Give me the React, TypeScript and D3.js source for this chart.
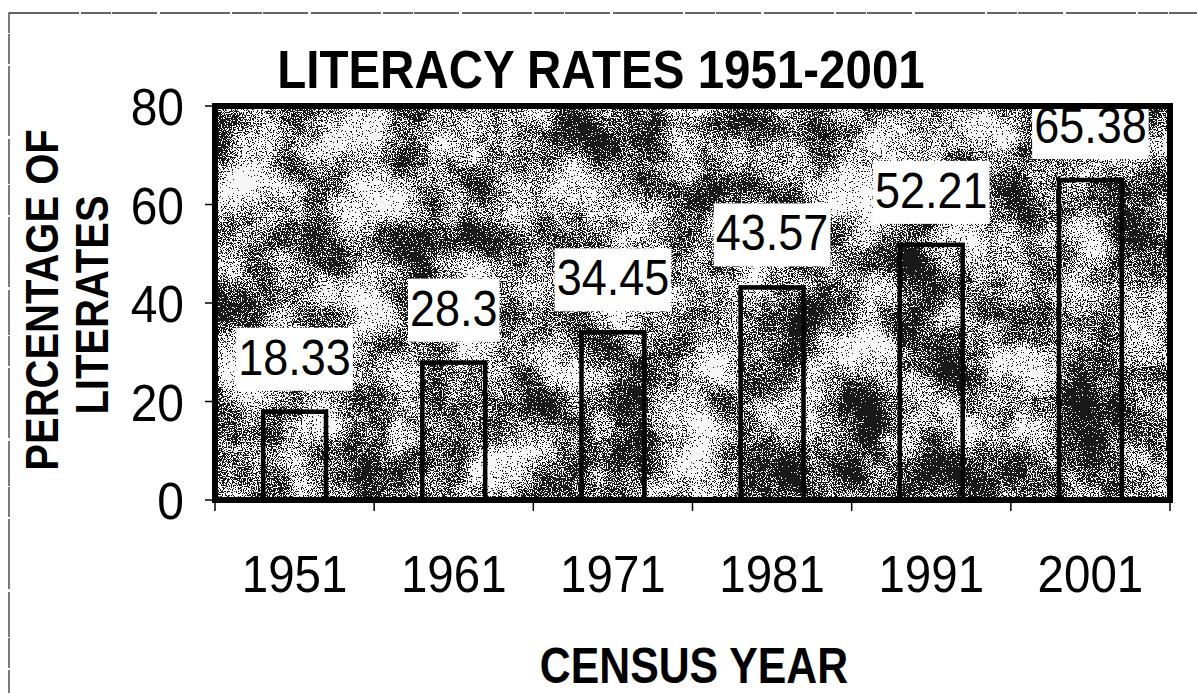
import React from 'react';
import * as d3 from 'd3';

// census years and literacy %
const years = ['1951', '1961', '1971', '1981', '1991', '2001'];
const literacy = [18.33, 28.3, 34.45, 43.57, 52.21, 65.38];
const yTicks = [0, 20, 40, 60, 80];

const W = 1197;
const H = 693;
const plot = { left: 215, right: 1170, top: 106, bottom: 500 };
const FONT = '"Liberation Sans", Arial, sans-serif';

let ctx: CanvasRenderingContext2D | null = null;
function measure(txt: string, size: number) {
  if (!ctx) ctx = document.createElement('canvas').getContext('2d');
  if (!ctx) return txt.length * size * 0.55;
  ctx.font = `${size}px ${FONT}`;
  return ctx.measureText(txt).width;
}

// speckled scan-like texture
function Granite({ id, bias }: { id: string; bias: number }) {
  return (
    <filter id={id} x="0" y="0" width="1" height="1" colorInterpolationFilters="sRGB">
      <feTurbulence type="fractalNoise" baseFrequency="0.018" numOctaves={4} seed={3} result="low" />
      <feTurbulence type="fractalNoise" baseFrequency="0.8" numOctaves={2} seed={8} result="high" />
      <feColorMatrix in="low" type="matrix" values="1 0 0 0 0  1 0 0 0 0  1 0 0 0 0  0 0 0 0 1" result="lowG" />
      <feColorMatrix in="high" type="matrix" values="1 0 0 0 0  1 0 0 0 0  1 0 0 0 0  0 0 0 0 1" result="highG" />
      <feComposite in="lowG" in2="highG" operator="arithmetic" k1="0" k2="1.25" k3="1.9" k4={bias} result="mix" />
      <feComponentTransfer in="mix">
        <feFuncR type="discrete" tableValues="0.1 0.97" />
        <feFuncG type="discrete" tableValues="0.1 0.97" />
        <feFuncB type="discrete" tableValues="0.1 0.97" />
        <feFuncA type="linear" slope="0" intercept="1" />
      </feComponentTransfer>
    </filter>
  );
}

export default function App() {
  const x = d3.scaleBand().domain(years).range([plot.left, plot.right])
    .paddingInner(0.58).paddingOuter(0.29);
  const xEdge = d3.scaleBand().domain(years).range([plot.left, plot.right]);
  const y = d3.scaleLinear().domain([0, 80]).range([plot.bottom, plot.top]);

  const labelSize = 45;

  return (
    <svg width={W} height={H} style={{ position: 'absolute', left: 0, top: 0, background: '#fff' }}
      fontFamily={FONT}>
      <defs>
        <Granite id="granite" bias={-1.05} />
        <Granite id="graniteDark" bias={-1.16} />
      </defs>

      {/* scanned page border */}
      <rect x={9} y={13} width={1300} height={800} fill="none" stroke="#333" strokeWidth={1.3}
        strokeDasharray="70 2 30 1 45 3" />

      {/* title */}
      <text transform="translate(601,88) scale(1,1.12)" textAnchor="middle" fontSize={47.5}
        fontWeight="bold">LITERACY RATES 1951-2001</text>

      {/* plot area background */}
      <rect x={plot.left} y={plot.top} width={plot.right - plot.left} height={plot.bottom - plot.top}
        fill="#888" filter="url(#granite)" />

      {/* bars */}
      {literacy.map((v, i) => (
        <g key={years[i]}>
          <rect x={x(years[i])!} y={y(v)} width={x.bandwidth()} height={y(0) - y(v)}
            fill="#555" filter="url(#graniteDark)" />
          <rect x={x(years[i])! + 2} y={y(v) + 2} width={x.bandwidth() - 4} height={y(0) - y(v) - 2}
            fill="none" stroke="#000" strokeWidth={4.5} />
        </g>
      ))}

      {/* label boxes */}
      {literacy.map((v, i) => {
        const cx = x(years[i])! + x.bandwidth() / 2;
        const w = measure(String(v), labelSize) + 4;
        const bottom = y(v) - 19;
        const top = Math.max(bottom - 63, plot.top);
        return <rect key={'b' + i} x={cx - w / 2} y={top} width={w} height={bottom - top} fill="#fff" />;
      })}

      {/* plot frame */}
      <rect x={plot.left} y={plot.top} width={plot.right - plot.left} height={plot.bottom - plot.top}
        fill="none" stroke="#000" strokeWidth={6} />

      {/* value labels */}
      {literacy.map((v, i) => {
        const cx = x(years[i])! + x.bandwidth() / 2;
        const base = y(v) - 19 - 16;
        return (
          <text key={'t' + i} transform={`translate(${cx},${base}) scale(1,1.09)`} textAnchor="middle"
            fontSize={labelSize}>{String(v)}</text>
        );
      })}

      {/* y axis ticks */}
      {yTicks.map(t => (
        <g key={'y' + t}>
          <line x1={plot.left - 10} x2={plot.left} y1={y(t)} y2={y(t)} stroke="#000" strokeWidth={1.5} />
          <text transform={`translate(184,${y(t) + 19}) scale(1,1.09)`} textAnchor="end" fontSize={48}>{t}</text>
        </g>
      ))}

      {/* x axis ticks */}
      {[...years.map(d => xEdge(d)!), plot.right].map((px, i) => (
        <line key={'xt' + i} x1={px} x2={px} y1={plot.bottom} y2={plot.bottom + 11} stroke="#000" strokeWidth={1.5} />
      ))}
      {years.map(d => (
        <text key={'xl' + d} transform={`translate(${x(d)! + x.bandwidth() / 2},592) scale(1,1.09)`}
          textAnchor="middle" fontSize={47.5}>{d}</text>
      ))}

      {/* axis titles */}
      <text transform="translate(58,300) rotate(-90) scale(1,1.15)" textAnchor="middle" fontSize={40}
        fontWeight="bold">PERCENTAGE OF</text>
      <text transform="translate(108,305) rotate(-90) scale(1,1.15)" textAnchor="middle" fontSize={40}
        fontWeight="bold">LITERATES</text>
      <text transform="translate(694,683) scale(1,1.15)" textAnchor="middle" fontSize={42.8}
        fontWeight="bold">CENSUS YEAR</text>
    </svg>
  );
}
